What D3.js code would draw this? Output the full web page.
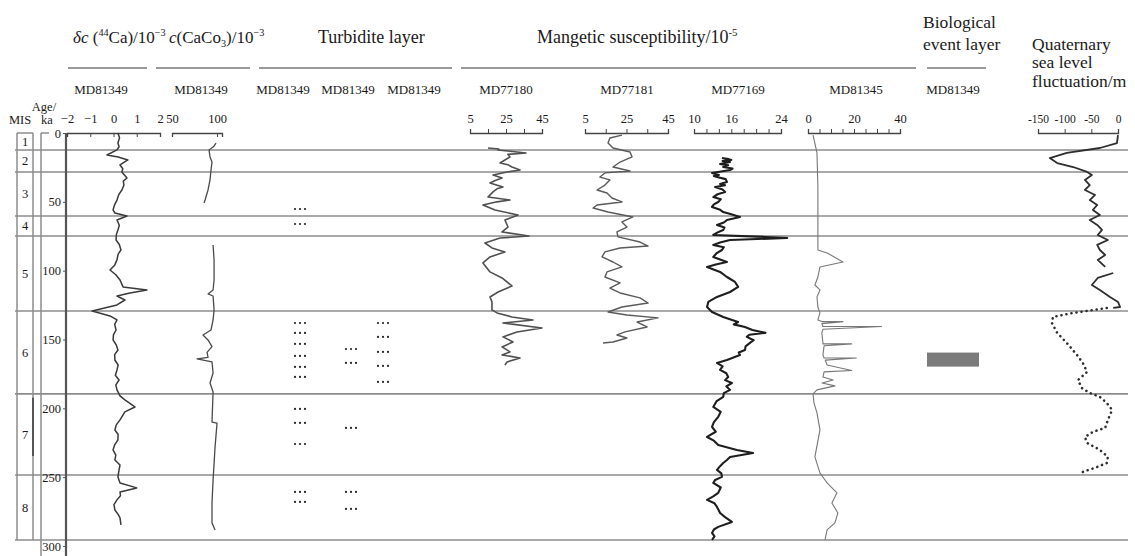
<!DOCTYPE html>
<html><head><meta charset="utf-8">
<script src="https://cdn.jsdelivr.net/npm/d3@7"></script>
<style>
body{margin:0;background:#fff}
svg{display:block}
text{font-family:"Liberation Serif","Times New Roman",serif;fill:#1a1a1a}
</style>
</head><body>
<svg id="c" width="1135" height="556"></svg>
<script>
// ---------------- DATA ----------------
const misBounds = [12.3, 28.3, 60.3, 74.8, 129.3, 189.5, 248.4, 295.6];
const misLabels = ["1","2","3","4","5","6","7","8"];
const ageTicks = [0, 50, 100, 150, 200, 250, 300];

const caTicks = [-2, -1, 0, 1, 2];
const caco3Ticks = [50, 100];
const md77180Ticks = [5, 15, 25, 35, 45];
const md77180Labels = [5, 25, 45];
const md77181Ticks = [5, 15, 25, 35, 45];
const md77181Labels = [5, 25, 45];
const md77169Ticks = [10, 12, 14, 16, 18, 20, 22, 24];
const md77169Labels = [10, 16, 24];
const md81345Ticks = [0, 5, 10, 15, 20, 25, 30, 35, 40];
const md81345Labels = [0, 20, 40];
const seaTicks = [-150, -100, -50, 0];

// [age ka, value]
const ca44 = [[0,0.19],[3.5,0.26],[7.3,0.19],[10,0.24],[12.3,0.15],[16,-0.28],[17.5,0.2],[19.6,0.62],[23.2,0.28],[26,0.4],[28.3,0.36],[32.7,0.58],
 [35,0.42],[37.8,0.45],[41.4,0.36],[45,0.22],[48.7,0.15],[52,0.05],[55.9,-0.02],[58.1,0.06],[60.3,0.58],[63.2,0.15],[67,0.25],[70.4,0.19],[74,0.12],
 [77.7,0.11],[81,0.25],[85,0.32],[88,0.2],[92.2,0.15],[96,0.05],[99.5,-0.15],[103,0.1],[106.8,0.28],[111.8,0.41],[114,1.44],[116.2,0.71],
 [118.4,0.15],[121.3,0.49],[124.9,0.15],[129.3,-0.92],[132.9,-0.15],[135.8,0.15],[139,0.05],[143.1,0.11],[146.5,0.0],
 [150.3,-0.02],[154,0.12],[157.6,0.19],[161,0.05],[164.9,0.06],[168.5,0.2],[172.1,0.15],[176,0.08],[179.4,0.24],[183,0.1],[186.6,0.15],[191,0.28],[193.9,0.49],
 [199,0.92],[202.6,0.49],[208.4,0.28],[212,0.12],[215.7,0.06],[219,0.2],[222.9,0.19],[226.5,0.05],[230.2,-0.02],[234,0.1],[237.5,0.06],[241.1,0.28],
 [244.7,0.24],[249.8,0.19],[254.2,0.28],[257.8,1.0],[260.7,0.28],[263.5,0.3],[266.5,0.15],[270,0.02],[273.8,0.06],[277,0.2],[279.6,0.28],[284.7,0.32]];

const caco3 = [[7.3,98.9],[10,96],[12.3,91.1],[17.4,92.2],[21.1,94.4],[26.9,93.3],[34.1,92.2],[41.4,90],[48.7,86.7],[50.8,85.6],
 null,
 [81.3,95.6],[92.2,96.7],[106.8,96.7],[114,95.6],[116.9,90],[118.4,95.6],[128.5,96.7],[135.8,95.6],[143.1,93.3],
 [146.7,84.4],[150.3,90],[155.2,94.4],[159.4,88.9],[163,90],[164,77.8],[166.2,94.4],[174.3,95.6],[181.6,92.2],
 [188.1,95.6],[210,94.4],[210.7,100],[228,97.8],[252,95.6],[268.7,94.4],[283.2,94.4],[288.3,97.8]];

const md77180 = [[10.9,15],[11.6,21],[12.3,20.6],[14.5,36.1],[15.5,26],[17.4,27.2],[19.6,24.4],[21.8,21.7],[23,26],[24.7,28.3],[26.9,32.8],
 [28.3,25.6],[30.5,17.8],[32.7,22.8],[34.5,19],[36.3,16.1],[39.2,23.3],[40.5,20],[42.8,17.8],[46.5,15],[48.7,27.2],[50,20],[52.3,12.2],
 [55.9,18.9],[59.6,31.7],[63.2,24.4],[68.3,26.1],[71.9,22.8],[74.8,37.8],[76.3,21.7],[79.9,13.3],[83.5,17.2],
 [86.4,24.4],[90,16.1],[94.4,12.2],[100.9,16.1],[105.3,22.8],[111.1,28.3],[115.5,20.6],[119.1,16.1],
 [122.7,17.2],[128.5,17.2],[130.7,20],[133.6,28.3],[135.8,40],[138,23.3],[141.6,45],[144.5,31.1],[148.1,23.3],
 [151.8,28.9],[155.4,22.8],[159,27.2],[161.2,22.8],[163.4,32.8],[166.3,25.6],[168.5,24.4]];

const md77181 = [[1.5,22.8],[3.6,17],[7.3,16.1],[10.9,18.5],[13.8,26.7],[17.4,27.7],[21.1,21.9],[24.7,18.5],
 [27.6,26.7],[29,14.6],[32,12.2],[34.1,17],[37.8,14.6],[41.4,10.8],[43.6,15.6],[47.2,18],[50.1,22.8],
 [52.3,10.8],[54.5,8.9],[57.4,16.1],[61,28.1],[64.6,22.8],[68.3,25.2],[71.9,20.4],[75.5,20.9],[79.2,31.5],
 [82.1,35.4],[83.5,21.9],[86.4,14.6],[90,13.2],[93.7,18.5],[97.3,22.8],[100.9,15.6],[104.6,14.6],
 [108.9,21.9],[112.6,17],[116.2,21.9],[119.8,31.5],[123.5,35.4],[126.4,22.8],[130,16.1],[132.2,25.2],
 [134.3,40.2],[137.3,30.1],[140.9,34.9],[144.5,24.3],[146.7,20.4],[148.9,25.2],[151.8,18.5],[152.5,13.7]];

const md77169 = [[18.2,14.5],[19,15.6],[19.6,16],[20.3,14.6],[21.1,15.8],[22.5,14.2],[23.5,15.5],[24.7,14.7],[25.8,16.2],[26.9,15.8],[29,12.9],[30.5,14],
 [31.2,13.2],[32,13.7],[33.5,15.1],[35.6,15.3],[37,14.2],[38,15],[39.2,13.4],[41,14.6],[42.8,15],[44.5,13.8],[46.5,13.1],[48.2,14.3],[50.1,13.9],[51.8,13.2],[53.7,12.9],
 [55.5,14.1],[57.4,14.7],[59,16],[61,17.4],[63.2,15.3],[65,14.8],[66.8,13.7],[68.6,14.9],[70.4,14.7],[72.2,13.8],[74.1,13.1],[75.5,21.5],[76.3,25],[77.7,15.8],
 [79.5,14.2],[81.3,13.1],[83,14.8],[85,14.5],[87.5,13.6],[90,13.1],[93.7,15.3],[95.5,13.5],[97.3,12.1],[100.9,14.2],[104.6,15.3],[108.2,16.6],[111.8,17.1],
 [115.5,15.8],[119.1,13.7],[122.7,12.3],[126.4,12.1],[130,12.9],[133.6,14.7],[137.3,17.1],[139,16.4],[140.9,18.2],
 [143.1,19.4],[145.2,21.5],[146.5,18.9],[148.1,18.5],[150.5,19.6],[152.5,19],[155,18.3],[157.6,18.2],[159.5,17.2],[161.2,17.4],[164.9,15.3],[167,13.7],
 [169.5,14.6],[172.1,14.2],[174.5,15.2],[177.2,15.5],[179.5,15],[181.6,16.1],[184,15.2],[186.6,15.8],[189,14.8],[191.7,14.7],[195,13.6],[199,13.1],[202.5,14.3],[206.2,13.9],[210,13.2],[213.5,12.9],
 [217,13.5],[220.8,12.1],[223.5,13.2],[226.6,13.9],[230.2,16.9],[232.4,19.5],[235.3,15.8],[237.5,15.3],[239.7,14.7],[242,14.2],[244.7,13.7],[247.2,14.4],[249.8,14.5],[252,13.4],
 [254.2,13.1],[257.5,14.3],[261.4,13.9],[264,13.1],[266.5,12.1],[269,13.3],[271.6,13.7],[276,14.2],[279,15],[282.5,16.1],[286.1,13.9],[288,13.2],[290.5,12.9],[293,13.3],[295.6,12.9]];

const md81345 = [[1.5,2.2],[14.5,3.9],[39.2,4.3],[63.2,4.3],[85,4.3],[87.1,8.3],[93.7,15.2],[97.3,5.2],
 [104.6,4.3],[110.4,3],[114,5.2],[119.1,3.9],[126.4,4.3],[130.7,5.2],[135.8,4.3],[137,6],[137,15.2],
 [138.5,6],[140.6,6.5],[140.6,32],[142.5,6.5],[145.2,6],[152.5,6.5],[153.2,6.5],[153.2,19],[154.5,7],
 [161.2,6.5],[163.4,7],[163.4,21],[165,7.5],[168.5,8.3],[172.5,19],[173.5,7],[177.2,6.5],[179.4,10.9],
 [181.6,6.1],[183.7,11.7],[186.6,3.9],[189.5,2.2],[196,2.6],[203.3,3.9],[215.7,5.2],[235.3,3],[246.9,5.2],
 [254.2,8.3],[261.4,12.6],[268.7,10.4],[276,13],[283.2,11.7],[288.3,8.3],[295.6,7.4]];

const seaSolid = [[1.5,0],[7.3,-2],[10.9,-34],[14.5,-96],[18.2,-128],[21.8,-114],[24.7,-84],[28.3,-58],
 [30.5,-49],[34.1,-62],[37.8,-53],[41.4,-62],[45,-43],[48.7,-53],[52.3,-39],[55.9,-47],[59.6,-34],
 [63.2,-53],[66.8,-39],[70.4,-30],[74.1,-38],[77.7,-19],[81.3,-39],[85,-34],[88.6,-24],[92.2,-38],[97.3,-24],
 null,
 [101.7,-9],[105.3,-38],[110.4,-49],[114,-34],[119.1,-15],[122.7,0],[126.4,4],[127.1,-9]];

const seaDotted = [[127.1,-21],[130.7,-84],[133.6,-122],[138,-124],[145.2,-114],[152.5,-96],[161.2,-77],
 [167,-66],[173.6,-58],[179.4,-75],[185.2,-68],[188.8,-53],[191.7,-34],[196.1,-21],[201.2,-11],[208.4,-19],
 [214.2,-24],[217.1,-47],[220.8,-62],[225.1,-58],[230.2,-34],[235.3,-19],[239.7,-21],[242.6,-39],[246.2,-66]];

const turbidite1 = [55.2,66.1,138,145.2,153.2,161.9,169.9,177.2,200.4,210.6,225.9,260.7,268];
const turbidite2 = [156.9,167,214.2,260.7,273.1];
const turbidite3 = [138,148.1,159,169.2,180.8];
const bioEvent = [159.5, 169.7];

// ---------------- DRAW ----------------
const svg = d3.select("#c");
const FONT = '"Liberation Serif","Times New Roman",serif';
const axisY = 133;
const y = d3.scaleLinear().domain([0, 300]).range([133, 546]);

const xCa = d3.scaleLinear().domain([-2, 2]).range([67, 160]);
const xCaco3 = d3.scaleLinear().domain([50, 105.5]).range([172, 222]);
const x80 = d3.scaleLinear().domain([5, 45]).range([470, 542]);
const x81 = d3.scaleLinear().domain([5, 45]).range([585, 668]);
const x69 = d3.scaleLinear().domain([10, 24]).range([694, 781]);
const x45 = d3.scaleLinear().domain([0, 40]).range([808, 900]);
const xSea = d3.scaleLinear().domain([-150, 0]).range([1038, 1118]);

// MIS boundary lines
svg.append("g").selectAll("line").data(misBounds).join("line")
  .attr("x1", 15).attr("x2", 1128)
  .attr("y1", d => y(d)).attr("y2", d => y(d))
  .attr("stroke", "#8c8c8c").attr("stroke-width", 1.6);

// MIS column
const misG = svg.append("g").attr("stroke", "#8c8c8c").attr("stroke-width", 1.5);
misG.append("line").attr("x1", 17).attr("x2", 17).attr("y1", y(0)).attr("y2", y(misBounds[7]));
misG.append("line").attr("x1", 33).attr("x2", 33).attr("y1", y(0)).attr("y2", y(misBounds[7]));
misG.append("line").attr("x1", 17).attr("x2", 33).attr("y1", y(0)).attr("y2", y(0));
misG.append("line").attr("x1", 41).attr("x2", 41).attr("y1", y(0)).attr("y2", 556);
misG.append("line").attr("x1", 41).attr("x2", 49).attr("y1", y(0)).attr("y2", y(0));
svg.append("line").attr("x1", 33).attr("x2", 33).attr("y1", y(192.4)).attr("y2", y(234.6))
  .attr("stroke", "#333").attr("stroke-width", 1.4);

const misMid = misLabels.map((l, i) => [l, ((i ? misBounds[i-1] : 0) + misBounds[i]) / 2]);
svg.append("g").selectAll("text").data(misMid).join("text")
  .attr("x", 25).attr("y", d => y(d[1])).attr("dy", "0.35em")
  .attr("text-anchor", "middle").attr("font-size", 12.5).text(d => d[0]);

// Age axis
const ageAx = svg.append("g").attr("transform", "translate(66,0)")
  .call(d3.axisLeft(y).tickValues(ageTicks).tickSize(3).tickPadding(2));
ageAx.select(".domain").remove();
ageAx.attr("font-family", FONT).attr("font-size", 12.5);
ageAx.selectAll(".tick line").attr("stroke", "#555");
ageAx.selectAll("text").attr("fill", "#1a1a1a");
svg.append("line").attr("x1", 66).attr("x2", 66).attr("y1", y(0)).attr("y2", 556)
  .attr("stroke", "#555").attr("stroke-width", 2.2);

svg.append("text").attr("x", 44).attr("y", 111).attr("text-anchor", "middle").attr("font-size", 12.5).text("Age/");
svg.append("text").attr("x", 20).attr("y", 124).attr("text-anchor", "middle").attr("font-size", 12.5).text("MIS");
svg.append("text").attr("x", 47).attr("y", 124).attr("text-anchor", "middle").attr("font-size", 12.5).text("ka");

// Panel axes
function topAxis(scale, ticks, labels, up, fmt, size) {
  const ax = d3.axisTop(scale).tickValues(ticks)
    .tickFormat(v => labels.includes(v) ? fmt(v) : "")
    .tickSizeInner(up ? 4 : -4).tickSizeOuter(up ? 4 : -4).tickPadding(up ? 6 : 10);
  const g = svg.append("g").attr("transform", `translate(0,${axisY})`).call(ax);
  g.attr("font-family", FONT).attr("font-size", size || 12.5);
  g.select(".domain").attr("stroke", "#444").attr("stroke-width", 1.3);
  g.selectAll(".tick line").attr("stroke", "#444");
  g.selectAll("text").attr("fill", "#1a1a1a");
}
const fInt = d3.format("d");
topAxis(xCa, caTicks, caTicks, false, fInt);
topAxis(xCaco3, caco3Ticks, caco3Ticks, false, fInt);
topAxis(x80, md77180Ticks, md77180Labels, true, fInt);
topAxis(x81, md77181Ticks, md77181Labels, true, fInt);
topAxis(x69, md77169Ticks, md77169Labels, true, fInt);
topAxis(x45, md81345Ticks, md81345Labels, true, fInt);
topAxis(xSea, seaTicks, seaTicks, true, v => String(v), 11.5);

// Curves
function curve(data, xs, color, width, dash) {
  const line = d3.line().defined(d => d).x(d => xs(d[1])).y(d => y(d[0]));
  const p = svg.append("path").datum(data).attr("d", line)
    .attr("fill", "none").attr("stroke", color).attr("stroke-width", width)
    .attr("stroke-linejoin", "round");
  if (dash) p.attr("stroke-dasharray", dash).attr("stroke-linecap", "round");
  return p;
}
curve(ca44, xCa, "#3a3a3a", 1.5);
curve(caco3, xCaco3, "#4a4a4a", 1.3);
curve(md77180, x80, "#505050", 1.6);
curve(md77181, x81, "#5a5a5a", 1.4);
curve(md77169, x69, "#1e1e1e", 2.1);
curve(md81345, x45, "#777", 1.1);
curve(seaSolid, xSea, "#2e2e2e", 1.8);
curve(seaDotted, xSea, "#2e2e2e", 2.6, "0.1,5");

// Turbidite dots
const turbCols = [[turbidite1, 300], [turbidite2, 351], [turbidite3, 383]];
turbCols.forEach(([ages, cx]) => {
  const g = svg.append("g");
  ages.forEach(a => {
    [-5, 0, 5].forEach(dx => {
      g.append("circle").attr("cx", cx + dx).attr("cy", y(a)).attr("r", 1.1).attr("fill", "#222");
    });
  });
});

// Biological event bar
svg.append("rect").attr("x", 927).attr("width", 52)
  .attr("y", y(bioEvent[0])).attr("height", y(bioEvent[1]) - y(bioEvent[0]))
  .attr("fill", "#7b7b7b");

// Header group lines
const hdrLines = [[68,147],[156,250],[259,452],[461,916],[927,986]];
svg.append("g").selectAll("line").data(hdrLines).join("line")
  .attr("x1", d => d[0]).attr("x2", d => d[1]).attr("y1", 68).attr("y2", 68)
  .attr("stroke", "#9a9a9a").attr("stroke-width", 2);

// Core labels
const coreLabels = [["MD81349",101],["MD81349",201],["MD81349",283],["MD81349",348],["MD81349",414],
  ["MD77180",506],["MD77181",627],["MD77169",738],["MD81345",856],["MD81349",953]];
svg.append("g").selectAll("text").data(coreLabels).join("text")
  .attr("x", d => d[1]).attr("y", 94).attr("text-anchor", "middle").attr("font-size", 13).text(d => d[0]);

// Titles
function rich(x, yy, size, parts) {
  const t = svg.append("text").attr("x", x).attr("y", yy).attr("font-size", size);
  let shift = 0;
  parts.forEach(p => {
    const s = t.append("tspan").text(p.t);
    let target = p.sup ? -7 : (p.sub ? 4 : 0);
    s.attr("dy", target - shift); shift = target;
    if (p.sup || p.sub) s.attr("font-size", size * 0.6);
    if (p.i) s.attr("font-style", "italic");
  });
  return t;
}
rich(73, 43, 17, [{t:"δc", i:true},{t:" ("},{t:"44", sup:true},{t:"Ca)/10"},{t:"−3", sup:true}]);
rich(169, 43, 17, [{t:"c", i:true},{t:"(CaCo"},{t:"3", sub:true},{t:")/10"},{t:"−3", sup:true}]);
svg.append("text").attr("x", 318).attr("y", 43).attr("font-size", 18).text("Turbidite layer");
rich(537, 43, 18, [{t:"Mangetic susceptibility/10"},{t:"-5", sup:true}]);
svg.append("text").attr("x", 923).attr("y", 28).attr("font-size", 17.5).text("Biological");
svg.append("text").attr("x", 923).attr("y", 50).attr("font-size", 17.5).text("event layer");
svg.append("text").attr("x", 1032).attr("y", 50).attr("font-size", 17.5).text("Quaternary");
svg.append("text").attr("x", 1032).attr("y", 68).attr("font-size", 17.5).text("sea level");
svg.append("text").attr("x", 1032).attr("y", 87).attr("font-size", 17.5).text("fluctuation/m");
</script>
</body></html>
